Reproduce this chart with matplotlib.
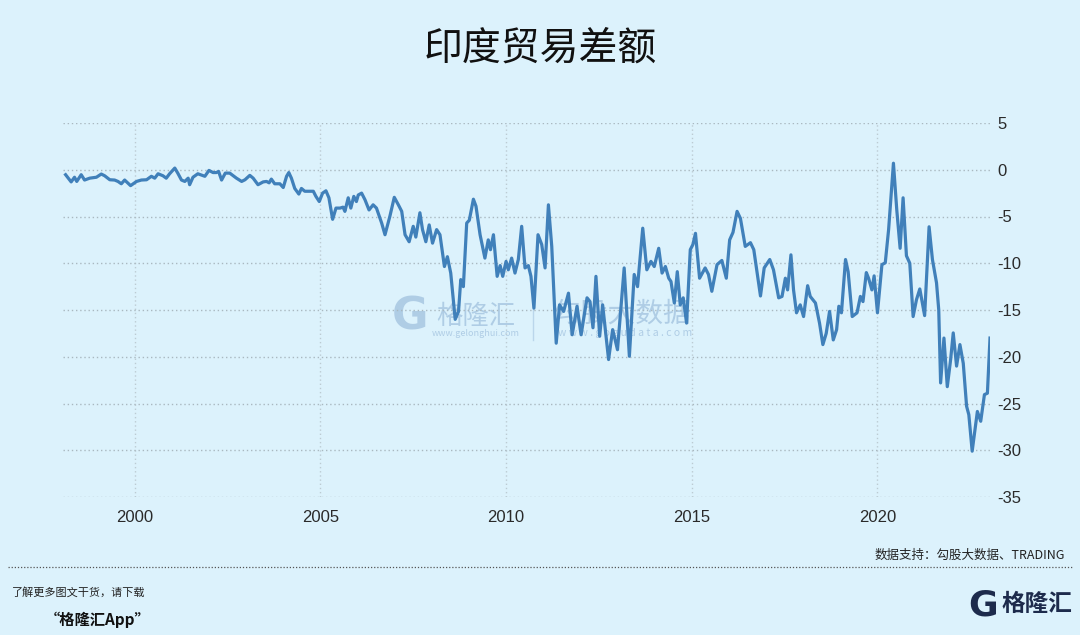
import matplotlib
matplotlib.use("Agg")
import matplotlib.pyplot as plt
from matplotlib.lines import Line2D

plt.rcParams['font.family'] = ['Noto Sans CJK SC', 'DejaVu Sans']
plt.rcParams['axes.unicode_minus'] = False

# India trade balance, USD bn
years = [
    1998.14, 1998.29, 1998.38, 1998.44, 1998.56, 1998.65, 1998.79, 1998.97, 1999.10, 1999.19,
    1999.33, 1999.46, 1999.55, 1999.64, 1999.73, 1999.89, 2000.05, 2000.18, 2000.32, 2000.45,
    2000.54, 2000.63, 2000.76, 2000.85, 2000.94, 2001.08, 2001.16, 2001.26, 2001.35, 2001.44,
    2001.48, 2001.57, 2001.70, 2001.89, 2002.00, 2002.11, 2002.20, 2002.26, 2002.34, 2002.44,
    2002.56, 2002.74, 2002.88, 2002.97, 2003.10, 2003.19, 2003.32, 2003.46, 2003.55, 2003.62,
    2003.68, 2003.77, 2003.91, 2004.00, 2004.09, 2004.15, 2004.22, 2004.31, 2004.42, 2004.49,
    2004.58, 2004.72, 2004.81, 2004.88, 2004.97, 2005.06, 2005.15, 2005.23, 2005.33, 2005.42,
    2005.53, 2005.61, 2005.66, 2005.75, 2005.82, 2005.90, 2005.97, 2006.02, 2006.11, 2006.20,
    2006.31, 2006.42, 2006.51, 2006.65, 2006.74, 2006.87, 2006.99, 2007.10, 2007.19, 2007.28,
    2007.39, 2007.50, 2007.57, 2007.68, 2007.75, 2007.84, 2007.93, 2008.02, 2008.13, 2008.22,
    2008.34, 2008.42, 2008.51, 2008.63, 2008.72, 2008.78, 2008.85, 2008.94, 2009.01, 2009.12,
    2009.19, 2009.30, 2009.43, 2009.52, 2009.58, 2009.66, 2009.76, 2009.84, 2009.91, 2010.00,
    2010.06, 2010.15, 2010.24, 2010.33, 2010.42, 2010.51, 2010.60, 2010.67, 2010.75, 2010.86,
    2010.96, 2011.05, 2011.14, 2011.23, 2011.35, 2011.44, 2011.55, 2011.68, 2011.78, 2011.91,
    2012.02, 2012.18, 2012.26, 2012.34, 2012.42, 2012.52, 2012.60, 2012.76, 2012.87, 2013.00,
    2013.18, 2013.32, 2013.45, 2013.54, 2013.68, 2013.79, 2013.90, 2013.99, 2014.11, 2014.20,
    2014.29, 2014.38, 2014.44, 2014.53, 2014.61, 2014.69, 2014.77, 2014.86, 2014.96, 2015.03,
    2015.10, 2015.21, 2015.36, 2015.45, 2015.54, 2015.68, 2015.81, 2015.93, 2016.02, 2016.11,
    2016.22, 2016.31, 2016.44, 2016.58, 2016.67, 2016.85, 2016.95, 2017.10, 2017.20, 2017.34,
    2017.43, 2017.52, 2017.58, 2017.67, 2017.74, 2017.82, 2017.92, 2018.01, 2018.12, 2018.19,
    2018.33, 2018.44, 2018.53, 2018.62, 2018.71, 2018.81, 2018.90, 2018.96, 2019.03, 2019.14,
    2019.21, 2019.32, 2019.45, 2019.54, 2019.61, 2019.70, 2019.76, 2019.85, 2019.91, 2020.00,
    2020.12, 2020.21, 2020.30, 2020.43, 2020.52, 2020.61, 2020.69, 2020.78, 2020.87, 2020.96,
    2021.05, 2021.14, 2021.27, 2021.39, 2021.48, 2021.59, 2021.65, 2021.70, 2021.79, 2021.88,
    2021.97, 2022.04, 2022.13, 2022.22, 2022.31, 2022.40, 2022.46, 2022.55, 2022.69, 2022.78,
    2022.88, 2022.96, 2023.03,
]
balance = [
    -0.53, -1.30, -0.80, -1.25, -0.53, -1.10, -0.90, -0.80, -0.46, -0.64,
    -1.07, -1.10, -1.25, -1.50, -1.10, -1.70, -1.25, -1.10, -1.07, -0.70,
    -0.90, -0.43, -0.64, -0.90, -0.43, 0.18, -0.36, -1.10, -1.25, -0.90,
    -1.60, -0.80, -0.43, -0.70, -0.07, -0.30, -0.30, -0.18, -1.10, -0.36,
    -0.36, -0.90, -1.25, -1.07, -0.60, -0.90, -1.60, -1.30, -1.25, -1.40,
    -1.00, -1.50, -1.50, -1.90, -0.70, -0.30, -0.90, -2.00, -2.60, -2.00,
    -2.30, -2.30, -2.30, -2.85, -3.40, -2.50, -2.25, -3.00, -5.30, -4.10,
    -4.10, -4.00, -4.45, -3.00, -4.10, -2.85, -3.40, -2.70, -2.50, -3.20,
    -4.30, -3.75, -4.10, -5.70, -6.95, -5.00, -2.95, -3.75, -4.45, -6.95,
    -7.70, -6.05, -7.20, -4.60, -6.40, -7.70, -5.90, -7.85, -6.40, -6.95,
    -10.35, -9.30, -11.05, -16.00, -15.15, -11.75, -12.50, -5.70, -5.40, -3.15,
    -3.90, -6.95, -9.45, -7.50, -8.55, -6.95, -11.40, -10.25, -11.40, -9.80,
    -10.70, -9.45, -11.05, -9.60, -6.05, -10.50, -10.25, -11.40, -14.80, -6.95,
    -8.00, -10.50, -3.75, -8.20, -18.55, -14.45, -15.15, -13.20, -17.65, -14.60,
    -17.65, -13.70, -14.10, -16.90, -11.40, -17.80, -14.45, -20.30, -17.10, -19.25,
    -10.50, -19.95, -11.20, -12.50, -6.25, -10.70, -9.80, -10.35, -8.40, -11.05,
    -10.35, -11.60, -11.95, -14.25, -10.90, -14.45, -13.70, -16.40, -8.55, -8.00,
    -6.80, -11.60, -10.50, -11.20, -13.00, -10.15, -9.70, -11.60, -7.50, -6.70,
    -4.45, -5.20, -8.20, -7.80, -8.55, -13.50, -10.50, -9.60, -10.70, -13.70,
    -13.55, -11.60, -12.85, -9.10, -12.85, -15.30, -14.45, -15.70, -12.40, -13.55,
    -14.25, -16.40, -18.70, -17.50, -15.15, -18.20, -17.10, -14.60, -15.30, -9.60,
    -10.90, -15.70, -15.30, -13.55, -14.10, -11.00, -11.60, -12.85, -11.35, -15.30,
    -10.15, -9.95, -6.40, 0.70, -4.30, -8.40, -3.00, -9.20, -10.00, -15.70,
    -13.90, -12.75, -15.60, -6.10, -9.60, -12.10, -15.00, -22.80, -18.00, -23.20,
    -20.30, -17.45, -21.00, -18.70, -20.70, -25.30, -26.20, -30.10, -25.85, -26.90,
    -24.05, -23.90, -18.00,
]
x_ticks = [2000, 2005, 2010, 2015, 2020]
y_ticks = [5, 0, -5, -10, -15, -20, -25, -30, -35]

bg = '#dcf2fc'
line_color = '#4080ba'
wm_color = '#a4c4e0'

fig = plt.figure(figsize=(10.8, 6.35), dpi=100, facecolor=bg)
ax = fig.add_axes([63 / 1080, 1 - 497 / 635, (990 - 63) / 1080, (497 - 123) / 635])
ax.set_facecolor(bg)

ax.plot(years, balance, color=line_color, linewidth=2.3, solid_joinstyle='round', zorder=3)

ax.set_xlim(1998.07, 2023.03)
ax.set_ylim(-35, 5)
ax.set_xticks(x_ticks)
ax.set_yticks(y_ticks)
ax.yaxis.tick_right()
ax.tick_params(length=0, labelsize=12, labelcolor='#2a2a2a')
ax.tick_params(axis='x', pad=9)
ax.tick_params(axis='y', pad=5)
for lab in ax.get_xticklabels() + ax.get_yticklabels():
    lab.set_family(['Liberation Sans', 'DejaVu Sans'])
ax.grid(axis='y', color='#a9b8c0', linestyle=(0, (1, 2)), linewidth=1)
ax.grid(axis='x', color='#bccbd3', linestyle=(0, (1, 2)), linewidth=1)
for s in ax.spines.values():
    s.set_visible(False)

# watermark
ax.text(410 / 1080, 1 - 317 / 635, 'G', transform=fig.transFigure, fontsize=32, fontweight='bold',
        color=wm_color, alpha=0.8, ha='center', va='center', family=['DejaVu Sans'], zorder=1)
ax.text(476 / 1080, 1 - 316 / 635, '格隆汇', transform=fig.transFigure, fontsize=19,
        color=wm_color, alpha=0.8, ha='center', va='center', zorder=1)
ax.text(476 / 1080, 1 - 333 / 635, 'www.gelonghui.com', transform=fig.transFigure, fontsize=6.5,
        color=wm_color, alpha=0.8, ha='center', va='center', zorder=1)
ax.add_artist(Line2D([533 / 1080, 533 / 1080], [1 - 295 / 635, 1 - 340 / 635], transform=fig.transFigure,
                     color=wm_color, alpha=0.6, linewidth=1, zorder=1))
ax.text(622 / 1080, 1 - 314 / 635, '勾股大数据', transform=fig.transFigure, fontsize=20,
        color=wm_color, alpha=0.8, ha='center', va='center', zorder=1)
ax.text(625 / 1080, 1 - 333 / 635, 'w w w . g o g u d a t a . c o m', transform=fig.transFigure, fontsize=7.5,
        color=wm_color, alpha=0.8, ha='center', va='center', zorder=1)

# title and footer
fig.text(0.5, 1 - 49 / 635, '印度贸易差额', fontsize=28, color='#111111', ha='center', va='center',
         fontweight='medium')
fig.text(1065 / 1080, 1 - 555 / 635, '数据支持：勾股大数据、TRADING', fontsize=9, color='#222222',
         ha='right', va='center')
fig.add_artist(Line2D([8 / 1080, 1072 / 1080], [1 - 567 / 635, 1 - 567 / 635], transform=fig.transFigure,
                      color='#555555', linestyle=(0, (1, 1.5)), linewidth=0.9))
fig.text(12 / 1080, 1 - 592 / 635, '了解更多图文干货，请下载', fontsize=8, color='#222222',
         ha='left', va='center')
fig.text(45 / 1080, 1 - 620 / 635, '“格隆汇App”', fontsize=11, color='#111111',
         ha='left', va='center', fontweight='bold')
fig.text(983 / 1080, 1 - 606 / 635, 'G', fontsize=26, fontweight='bold', color='#1d2b4c',
         ha='center', va='center', family=['DejaVu Sans'])
fig.text(1037 / 1080, 1 - 604 / 635, '格隆汇', fontsize=17, fontweight='bold', color='#1d2b4c',
         ha='center', va='center')

fig.savefig('out.png', dpi=100, facecolor=bg)
